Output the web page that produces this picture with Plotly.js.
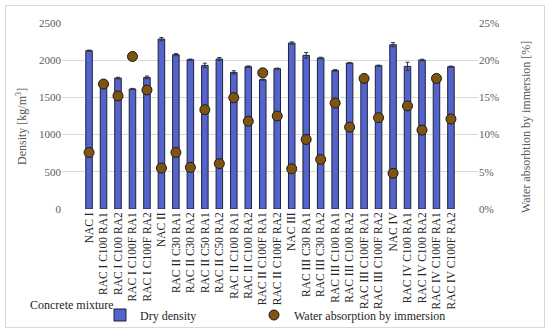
<!DOCTYPE html>
<html><head><meta charset="utf-8">
<script src="https://cdn.plot.ly/plotly-3.0.1.min.js"></script>
<style>html,body{margin:0;padding:0;background:#fff}#chart{width:550px;height:333px}</style>
</head><body><div id="chart"></div>
<script>
const categories = ["NAC I","RAC I C100 RA1","RAC I C100 RA2","RAC I C100F RA1","RAC I C100F RA2","NAC II","RAC II C30 RA1","RAC II C30 RA2","RAC II C50 RA1","RAC II C50 RA2","RAC II C100 RA1","RAC II C100 RA2","RAC II C100F RA1","RAC II C100F RA2","NAC III","RAC III C30 RA1","RAC III C30 RA2","RAC III C100 RA1","RAC III C100 RA2","RAC III C100F RA1","RAC III C100F RA2","NAC IV","RAC IV C100 RA1","RAC IV C100 RA2","RAC IV C100F RA1","RAC IV C100F RA2"];
const dryDensity = [2128,1690,1760,1613,1769,2284,2074,2007,1930,2016,1836,1913,1738,1886,2231,2065,2030,1863,1962,1720,1926,2208,1917,2003,1720,1913];
const densityError = [8,10,10,8,18,22,15,8,30,20,22,10,8,8,15,38,10,10,8,10,8,28,55,10,10,8];
const waterAbsorption = [7.6,16.8,15.2,20.5,16.0,5.5,7.6,5.6,13.35,6.1,14.96,11.8,18.3,12.5,5.4,9.35,6.67,14.25,11.0,17.55,12.27,4.8,13.85,10.6,17.55,12.1];

const L = 62, R = 72, T = 23, B = 124, W = 550, H = 333;
const pw = W - L - R, ph = H - T - B;
const px = x => (x - L) / pw;
const py = y => (H - B - y) / ph;
const FONT = "Liberation Serif";

const traces = [
  {type:'bar', name:'Dry density', x:categories, y:dryDensity,
   marker:{color:'#5563CC', line:{color:'#1c2238', width:1}},
   error_y:{type:'data', array:densityError, visible:true, color:'#333', thickness:1, width:2},
   yaxis:'y', legend:'legend'},
  {type:'scatter', mode:'markers', name:'Water absorption by immersion', x:categories, y:waterAbsorption,
   marker:{color:'#7E5410', size:10, line:{color:'#1a1a1a', width:1}},
   yaxis:'y2', legend:'legend2'}
];

const legendBase = {orientation:'h', yanchor:'middle', xanchor:'left', y:py(315),
  font:{family:FONT, size:12, color:'#262626'}, bgcolor:'rgba(0,0,0,0)', itemwidth:30};

const layout = {
  width:W, height:H,
  margin:{l:L, r:R, t:T, b:B, pad:0, autoexpand:false},
  paper_bgcolor:'#fff', plot_bgcolor:'#fff',
  font:{family:FONT, size:11, color:'#595959'},
  bargap:0.55,
  showlegend:true,
  xaxis:{type:'category', tickangle:-90, tickfont:{family:FONT, size:11.5, color:'#262626'},
         showgrid:false, showline:false, ticks:'', automargin:false},
  yaxis:{range:[0,2500], dtick:500, gridcolor:'#d9d9d9', zeroline:false, showline:false, ticks:'',
         tickfont:{family:FONT, size:11, color:'#595959'}, automargin:false},
  yaxis2:{range:[0,25], dtick:5, ticksuffix:'%', overlaying:'y', side:'right', showgrid:false,
          zeroline:false, showline:false, ticks:'', tickfont:{family:FONT, size:11, color:'#595959'}, automargin:false},
  legend:Object.assign({}, legendBase, {x:px(100)}),
  legend2:Object.assign({}, legendBase, {x:px(254)}),
  annotations:[
    {text:'Concrete mixture', xref:'paper', yref:'paper', x:px(72), y:py(305), showarrow:false,
     font:{family:FONT, size:12, color:'#262626'}, xanchor:'center', yanchor:'middle'},
    {text:'Density [kg/m<sup>3</sup>]', xref:'paper', yref:'paper', x:px(22), y:py(127), textangle:-90, showarrow:false,
     font:{family:FONT, size:12, color:'#595959'}, xanchor:'center', yanchor:'middle'},
    {text:'Water absorbtion by immersion [%]', xref:'paper', yref:'paper', x:px(526), y:py(127), textangle:-90, showarrow:false,
     font:{family:FONT, size:12, color:'#595959'}, xanchor:'center', yanchor:'middle'}
  ],
  shapes:[
    {type:'rect', xref:'paper', yref:'paper', x0:px(5.5), x1:px(544.5), y0:py(327.5), y1:py(5.5),
     line:{color:'#d9d9d9', width:1}, fillcolor:'rgba(0,0,0,0)', layer:'below'}
  ]
};
Plotly.newPlot('chart', traces, layout, {displayModeBar:false, staticPlot:true});
</script></body></html>
